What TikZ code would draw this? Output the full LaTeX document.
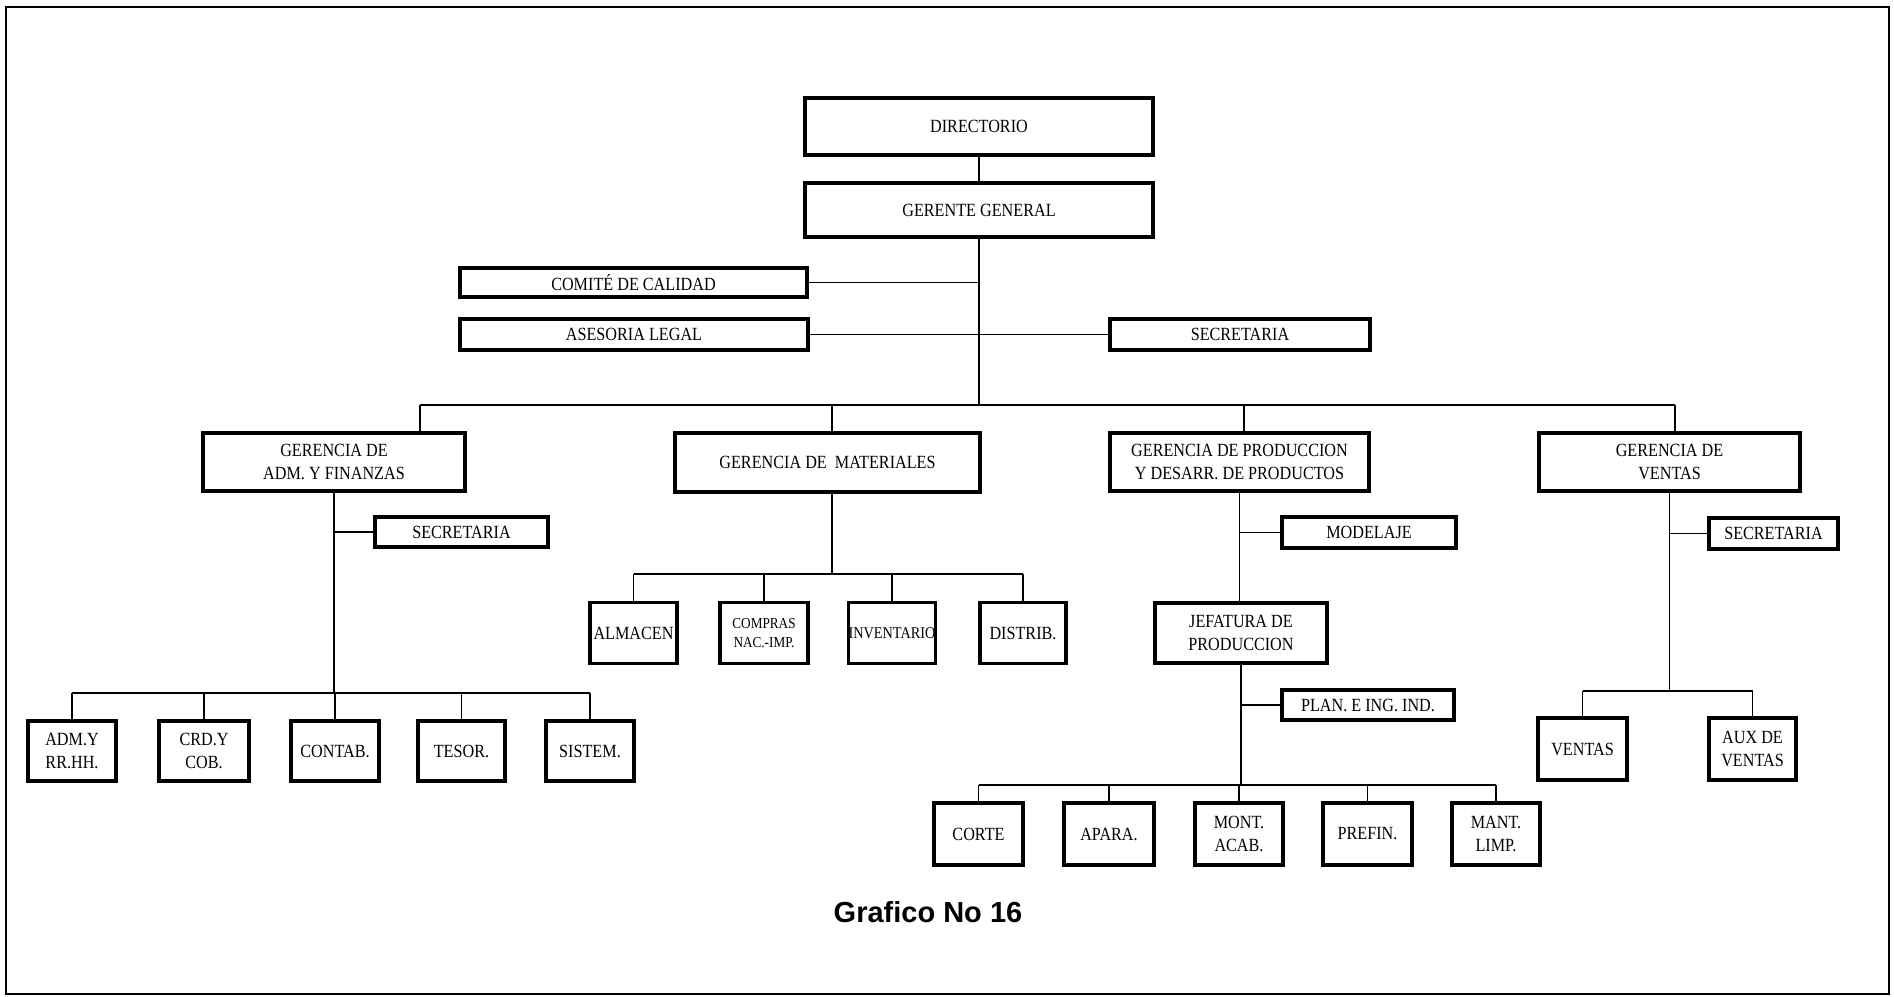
\documentclass[tikz,border=0pt]{standalone}
\usepackage{fontspec}
\setmainfont{Liberation Serif}[FakeStretch=0.87]
\newfontfamily\titlefont{Liberation Sans}
\begin{document}
\begin{tikzpicture}[x=0.5pt,y=-0.5pt,
  box/.style={draw, line width=1.9pt, inner sep=0pt, outer sep=0pt,
    align=center, font=\fontsize{9.3}{11.5}\selectfont},
  sz/.style 2 args={minimum width=#1*0.5pt, minimum height=#2*0.5pt},
  link/.style={line width=0.9pt},
  small/.style={font=\fontsize{7.6}{9.5}\selectfont},
  tight/.style={font=\fontsize{8.2}{10}\selectfont}]
\useasboundingbox (0,0) rectangle (1894,996);
\draw[line width=1.3pt] (6,7) rectangle (1889,994);

% top of the chart
\node[box, sz={348}{57}] (dir) at (979,126.5) {DIRECTORIO};
\node[box, sz={348}{54}] (gg) at (979,210) {GERENTE GENERAL};
\node[box, sz={347}{29}] (comite) at (633.5,282.5) {COMITÉ DE CALIDAD};
\node[box, sz={348}{31}] (ases) at (634,334.5) {ASESORIA LEGAL};
\node[box, sz={260}{31}] (sec0) at (1240,334.5) {SECRETARIA};

% managements
\node[box, sz={262}{58}] (g1) at (334,462) {GERENCIA DE\\ADM. Y FINANZAS};
\node[box, sz={305}{59}] (g2) at (827.5,462.5) {GERENCIA DE \ MATERIALES};
\node[box, sz={259}{58}] (g3) at (1239.5,462) {GERENCIA DE PRODUCCION\\Y DESARR. DE PRODUCTOS};
\node[box, sz={261}{58}] (g4) at (1669.5,462) {GERENCIA DE\\VENTAS};

% administration and finance
\node[box, sz={173}{30}] (sec1) at (461.5,532) {SECRETARIA};
\node[box, sz={88}{60}] (a1) at (72,751) {ADM.Y\\RR.HH.};
\node[box, sz={90}{60}] (a2) at (204,751) {CRD.Y\\COB.};
\node[box, sz={88}{60}] (a3) at (335,751) {CONTAB.};
\node[box, sz={87}{60}] (a4) at (461.5,751) {TESOR.};
\node[box, sz={88}{60}] (a5) at (590,751) {SISTEM.};

% materials
\node[box, sz={87}{61}] (m1) at (633.5,633) {ALMACEN};
\node[box, sz={88}{61}, small] (m2) at (764,633) {COMPRAS\\NAC.-IMP.};
\node[box, sz={86}{61}, tight] (m3) at (892,633) {INVENTARIO};
\node[box, sz={86}{61}] (m4) at (1023,633) {DISTRIB.};

% production
\node[box, sz={174}{31}] (mod) at (1369,532.5) {MODELAJE};
\node[box, sz={172}{60}] (jef) at (1241,633) {JEFATURA DE\\PRODUCCION};
\node[box, sz={172}{30}] (plan) at (1368,705) {PLAN. E ING. IND.};
\node[box, sz={89}{62}] (p1) at (978.5,834) {CORTE};
\node[box, sz={90}{62}] (p2) at (1109,834) {APARA.};
\node[box, sz={88}{62}] (p3) at (1239,834) {MONT.\\ACAB.};
\node[box, sz={89}{62}] (p4) at (1367.5,834) {PREFIN.};
\node[box, sz={88}{62}] (p5) at (1496,834) {MANT.\\LIMP.};

% sales
\node[box, sz={129}{31}] (sec4) at (1773.5,533.5) {SECRETARIA};
\node[box, sz={89}{62}] (v1) at (1582.5,749) {VENTAS};
\node[box, sz={87}{62}] (v2) at (1752.5,749) {AUX DE\\VENTAS};

\node[font=\titlefont\bfseries\fontsize{14.5}{17}\selectfont] (title) at (928,912) {Grafico No 16};

% connectors: top
\coordinate (bus) at (979,405);
\coordinate (d1) at (420,405);
\coordinate (d2) at (832,405);
\coordinate (d3) at (1244,405);
\coordinate (d4) at (1675,405);
\draw[link] (dir.south) -- (gg.north);
\draw[link] (gg.south) -- (bus);
\draw[link] (comite.east) -- (comite.east -| gg.south);
\draw[link] (ases.east) -- (sec0.west);
\draw[link] (d1) -- (d4);
\draw[link] (d1) -- (d1 |- g1.north);
\draw[link] (d2) -- (d2 |- g2.north);
\draw[link] (d3) -- (d3 |- g3.north);
\draw[link] (d4) -- (d4 |- g4.north);

% connectors: administration and finance
\coordinate (ay) at (0,693);
\draw[link] (g1.south) -- (g1.south |- ay);
\draw[link] (sec1.west) -- (sec1.west -| g1.south);
\draw[link] (a1.north |- ay) -- (a5.north |- ay);
\foreach \n in {a1,a2,a3,a4,a5} \draw[link] (\n.north) -- (\n.north |- ay);

% connectors: materials
\coordinate (my) at (0,574);
\draw[link] (d2 |- g2.south) -- (d2 |- my);
\draw[link] (m1.north |- my) -- (m4.north |- my);
\foreach \n in {m1,m2,m3,m4} \draw[link] (\n.north) -- (\n.north |- my);

% connectors: production
\coordinate (py) at (0,785);
\draw[link] (g3.south) -- (g3.south |- jef.north);
\draw[link] (mod.west) -- (mod.west -| g3.south);
\draw[link] (jef.south) -- (jef.south |- py);
\draw[link] (plan.west) -- (plan.west -| jef.south);
\draw[link] (p1.north |- py) -- (p5.north |- py);
\foreach \n in {p1,p2,p3,p4,p5} \draw[link] (\n.north) -- (\n.north |- py);

% connectors: sales
\coordinate (vy) at (0,691);
\draw[link] (g4.south) -- (g4.south |- vy);
\draw[link] (sec4.west) -- (sec4.west -| g4.south);
\draw[link] (v1.north |- vy) -- (v2.north |- vy);
\foreach \n in {v1,v2} \draw[link] (\n.north) -- (\n.north |- vy);
\end{tikzpicture}
\end{document}
